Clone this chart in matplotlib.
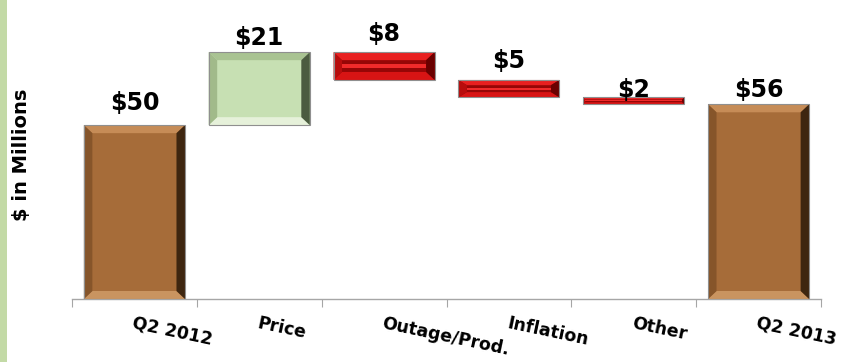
import numpy as np
import matplotlib
matplotlib.use("Agg")
import matplotlib.pyplot as plt
from matplotlib.patches import Polygon, Rectangle

# waterfall: Q2 2012 -> Q2 2013, $ in millions
categories = ["Q2 2012", "Price", "Outage/Prod.", "Inflation", "Other", "Q2 2013"]
start_value = 50
changes = [21, -8, -5, -2]
value_labels = ["$50", "$21", "$8", "$5", "$2", "$56"]

# layout only: pixel gap between bar top and its label
label_gap_px = [15, 7, 11, 12, 0, 7]

# bar looks: face, top, bottom, left, right bevel colours
styles = {
    "total": dict(face="#a66c39", top="#c68c57", bottom="#c99460",
                  left="#86552a", right="#3e2610", stripe=None),
    "up": dict(face="#c7e0b3", top="#a9c392", bottom="#e6f1da",
               left="#a1ba8a", right="#4b5b40", stripe=None),
    "down": dict(face="#960606", top="#e82020", bottom="#d81414",
                 left="#b80c0c", right="#6a0000", stripe="#f02a2a"),
}

# cumulative positions
bottoms, heights, kinds = [0], [start_value], ["total"]
level = start_value
for c in changes:
    if c >= 0:
        bottoms.append(level)
        kinds.append("up")
    else:
        bottoms.append(level + c)
        kinds.append("down")
    heights.append(abs(c))
    level += c
bottoms.append(0)
heights.append(level)
kinds.append("total")

W, H = 850, 362
fig = plt.figure(figsize=(W / 100, H / 100), dpi=100)
ax = fig.add_axes([72 / W, 63 / H, 749 / W, 299 / H])
ax.set_xlim(-0.5, len(categories) - 0.5)
ax.set_ylim(0, 86)

# green strip at the left edge
fig.patches.append(Rectangle((0, 0), 7 / W, 1, transform=fig.transFigure,
                             facecolor="#c3daa6", edgecolor="none"))

px_x = (len(categories)) / 749.0
px_y = 86 / 299.0
bar_w = 0.81


def bevel_bar(x, b, h, st):
    x0, x1 = x - bar_w / 2, x + bar_w / 2
    y0, y1 = b, b + h
    h_px = h / px_y
    bv = min(8.0, 0.3 * h_px)
    bx = max(bv, 2) * px_x
    by = bv * px_y
    if bv >= 3:
        bx = 8.5 * px_x
    ix0, ix1, iy0, iy1 = x0 + bx, x1 - bx, y0 + by, y1 - by
    ax.add_patch(Rectangle((x0, y0), bar_w, h, facecolor=st["face"],
                           edgecolor="none", zorder=2))
    parts = [
        ([(x0, y1), (x1, y1), (ix1, iy1), (ix0, iy1)], st["top"]),
        ([(x0, y0), (x1, y0), (ix1, iy0), (ix0, iy0)], st["bottom"]),
        ([(x0, y0), (x0, y1), (ix0, iy1), (ix0, iy0)], st["left"]),
        ([(x1, y0), (x1, y1), (ix1, iy1), (ix1, iy0)], st["right"]),
    ]
    for pts, col in parts:
        ax.add_patch(Polygon(pts, closed=True, facecolor=col,
                             edgecolor="none", zorder=3))
    if st["stripe"] and (iy1 - iy0) > 0:
        mid = (iy0 + iy1) / 2
        sh = (iy1 - iy0) * 0.3
        ax.add_patch(Rectangle((ix0, mid - sh / 2), ix1 - ix0, sh,
                               facecolor=st["stripe"], edgecolor="none",
                               zorder=3))
    ax.add_patch(Rectangle((x0, y0), bar_w, h, facecolor="none",
                           edgecolor="#8f8f8f", linewidth=0.8, zorder=4))


xs = np.arange(len(categories))
for i in range(len(categories)):
    bevel_bar(xs[i], bottoms[i], heights[i], styles[kinds[i]])
    ax.annotate(value_labels[i], (xs[i], bottoms[i] + heights[i]),
                xytext=(0, label_gap_px[i]), textcoords="offset pixels",
                ha="center", va="baseline", fontsize=17, fontweight="bold",
                color="black", zorder=5)

for s in ["top", "right", "left"]:
    ax.spines[s].set_visible(False)
ax.spines["bottom"].set_color("#a6a6a6")
ax.spines["bottom"].set_linewidth(1)
ax.set_yticks([])
ax.set_xticks(np.arange(len(categories) + 1) - 0.5)
ax.set_xticklabels([])
ax.tick_params(axis="x", which="major", length=6, color="#a6a6a6")
ax.set_xticks(xs, categories, minor=True)
ax.tick_params(axis="x", which="minor", length=0, pad=11)
for lab in ax.get_xticklabels(minor=True):
    lab.set_rotation(-12)
    lab.set_rotation_mode("anchor")
    lab.set_ha("left")
    lab.set_va("top")
    lab.set_fontsize(12.5)
    lab.set_fontweight("bold")

fig.text(22 / W, 1 - 155 / H, "$ in Millions", rotation=90, ha="center",
         va="center", fontsize=14, fontweight="bold")

fig.savefig("out.png", dpi=100)
